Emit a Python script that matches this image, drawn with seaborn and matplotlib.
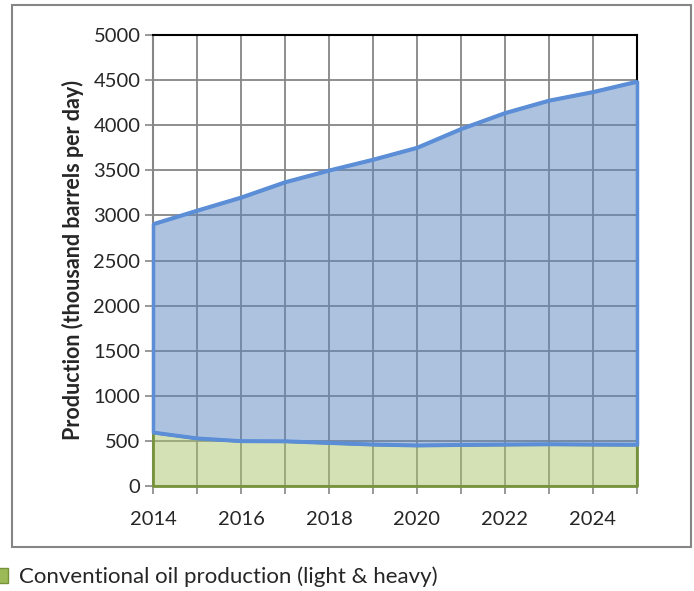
import matplotlib
matplotlib.use("Agg")
import matplotlib.pyplot as plt
import seaborn as sns
from matplotlib.colors import to_rgba
from matplotlib.patches import Patch, Rectangle

years = [2014, 2015, 2016, 2017, 2018, 2019, 2020, 2021, 2022, 2023, 2024, 2025]
conventional = [595, 530, 500, 498, 480, 462, 452, 458, 462, 465, 462, 460]
total = [2905, 3055, 3200, 3370, 3500, 3620, 3752, 3960, 4137, 4275, 4370, 4485]
y_ticks = [0, 500, 1000, 1500, 2000, 2500, 3000, 3500, 4000, 4500, 5000]
x_labels = [str(y) if y % 2 == 0 else "" for y in years]
legend_label = "Conventional oil production (light & heavy)"

sns.set_theme(style="white")
plt.rcParams["font.family"] = ["Lato", "DejaVu Sans"]

grey = "#868686"
blue_line = "#5b8ed6"
blue_fill = to_rgba("#5a87c0", 0.5)
green_line = "#77933c"
green_fill = to_rgba("#a9c46c", 0.5)

fig = plt.figure(figsize=(6.94, 5.91), dpi=100)
ax = fig.add_axes([153 / 694, 1 - 486 / 591, (637 - 153) / 694, (486 - 35) / 591])

ax.fill_between(years, 0, conventional, facecolor=green_fill,
                edgecolor=green_line, linewidth=2, zorder=3, clip_on=False)
ax.fill_between(years, conventional, total, facecolor=blue_fill,
                edgecolor=blue_line, linewidth=2.5, zorder=3.1, clip_on=False)
sns.lineplot(x=years, y=total, color=blue_line, linewidth=2.5, ax=ax, zorder=4)
sns.lineplot(x=years, y=conventional, color=blue_line, linewidth=2.5, ax=ax, zorder=4)

ax.set_xlim(years[0], years[-1])
ax.set_ylim(0, 5000)
ax.set_xticks(years)
ax.set_xticklabels(x_labels)
ax.set_yticks(y_ticks)
ax.tick_params(axis="both", direction="out", length=6, width=1.2, color=grey,
               labelsize=14.5, bottom=True, left=True)
ax.tick_params(axis="x", pad=12)
ax.tick_params(axis="y", pad=3)
ax.grid(True, color=grey, linewidth=1.3, zorder=1)
ax.set_axisbelow(True)

for side in ["left", "bottom"]:
    ax.spines[side].set_color(grey)
    ax.spines[side].set_linewidth(1.5)
for side in ["top", "right"]:
    ax.spines[side].set_color("black")
    ax.spines[side].set_linewidth(1.5)

ax.set_ylabel("Production (thousand barrels per day)", fontsize=15.5,
              fontweight="bold", labelpad=7)

# outer chart frame
fig.patches.append(Rectangle((12 / 694, 1 - 547 / 591), (691 - 12) / 694,
                             (547 - 5) / 591, transform=fig.transFigure,
                             fill=False, edgecolor=grey, linewidth=1.5))

handle = Patch(facecolor="#9bbb59", edgecolor=green_line, linewidth=1)
fig.legend([handle], [legend_label], loc="center left",
           bbox_to_anchor=(-0.034, 1 - 577 / 591), frameon=False,
           fontsize=16, handlelength=0.5, handleheight=0.6, handletextpad=0.5)

fig.savefig("out.png", dpi=100)
